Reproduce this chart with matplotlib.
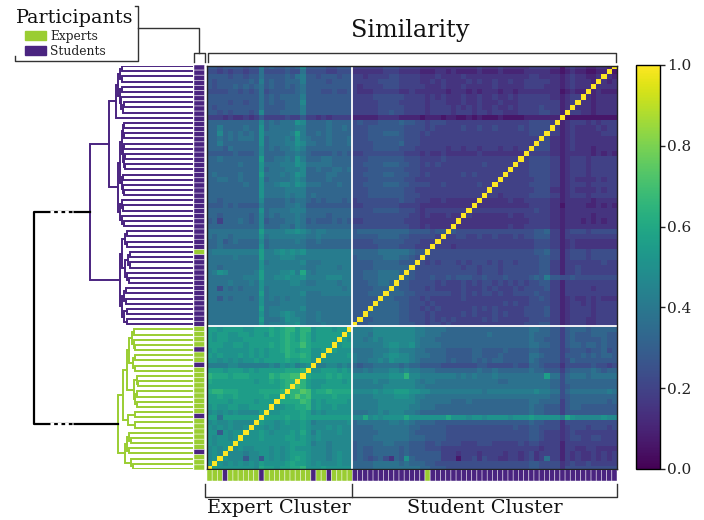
import numpy as np
import matplotlib
matplotlib.use('Agg')
import matplotlib.pyplot as plt
from matplotlib.colors import ListedColormap
from matplotlib.lines import Line2D
from matplotlib.patches import Patch

plt.rcParams['font.family'] = ['DejaVu Serif']

W, H = 704, 520
N = 79

# Similarity, one hex digit per cell (steps of 0.045 from 0.06).
# Groups: cols 0-9, 10-19, 20-27, 28-37, 38-47, 48-57, 58-67, 68-78
similarity_rows = [
    "5545555455 8565565695 55544555 3333334443 3332222222 2222322232 2222333322 02322112211",
    "4434344344 7444454474 44433444 2222223332 2221112212 1111211121 1112222211 01211001100",
    "5555455455 7555565785 54555455 3323333443 3332223222 2322222222 2222332222 12322112221",
    "5455555565 8565566685 55545555 3333344443 3332232322 2232322322 3223333322 12322212212",
    "5455565656 7565565675 55555555 3233334443 3333222322 2322222322 2223333222 12322212222",
    "4444554545 7455555675 55445445 3222333332 2322222212 2212122212 2122222222 01211112111",
    "5555555555 7565666685 55555555 3333444444 3333232322 2322322322 3233333322 12332212222",
    "5555455455 7565566695 55555555 3333344443 3333233322 2322322232 2233333333 12322212222",
    "5455555555 7555566685 55555555 3333344444 3333233332 3232322322 3233334333 12322212222",
    "5545455545 9555666685 55555555 3333344544 3333233332 3332332332 2233334433 12332212222",
    "3332322323 5333343353 32323333 1111122221 1110111011 0010100010 0001111111 00000000000",
    "6666666666 9676777a96 66676666 4544455556 5544344433 3333333333 3333444433 12333232333",
    "6686666766 a677777886 66676676 4445555555 4444343333 3433433433 3343444433 12322223233",
    "6696767676 a777778b86 67676666 4445556665 4443433333 3333333333 3333444433 12322222333",
    "6676767776 a677787a87 66676667 4445555555 4443333333 3333333333 3333333422 12322222222",
    "6686666666 a677788a97 76676667 4444555556 4443333333 3333333333 3333344422 12322222222",
    "6665766666 9676778986 66666666 4444555554 4433333323 3233233323 3233344422 12322212222",
    "5555565556 9666677876 55556565 3344444444 3332322322 2222322222 2222333322 12222212121",
    "6676666666 b667787a86 66776666 4445555555 4443333433 3333333333 3333444433 12333233333",
    "6666667666 a777888a97 77776666 4455556665 5443434333 3333343333 3333444433 12333233333",
    "6666666666 a677788896 67667767 4445555555 4443333333 3333333333 3333444433 12333233333",
    "6766667666 b777878a96 66677666 4455556655 5443433333 3434333333 3333444433 12333233333",
    "6677667666 a677778986 66676666 4445555555 4433333333 3333333333 3333344433 12322223233",
    "6666666766 a778998a97 77666766 4455556665 5444433433 3333433433 3333444433 12333233333",
    "6666666666 a777788886 66666666 4445555555 4433333333 3333333333 3333344422 12322223233",
    "6666666666 a777787886 76666666 4445555555 4443333333 3333333323 3333444433 12333233333",
    "6656666666 9666676776 56566656 3444444445 4433322322 2222322222 3223333322 12222212222",
    "5556565555 8666677875 55555555 3344444443 3332222222 2222222222 2222333322 02222112121",
    "6666666666 a677778886 66666666 4444555554 4432333333 3333333333 3333343322 12222222222",
    "6656666656 9676777876 66656666 4444444444 4332322232 2232222222 3223333322 12222212222",
    "5636667656 9566677875 65556565 3344444444 3332222222 2222222222 2222333322 12221212122",
    "6666666666 9666776876 66666666 4444444444 4332322222 2222222222 3223333322 12222222222",
    "7777777777 b888899a98 78877777 5666666666 6555545545 4444444444 4444455633 13444344444",
    "7677677777 a788888887 78777777 5555566665 5444443433 4433433433 3434455533 13333333333",
    "6675676666 9677777876 67666666 4444555555 4443333333 3333333333 3333344433 12322222222",
    "6676666666 a677777776 66666666 4444455554 4433333332 3333333333 3333344433 12322222222",
    "7888888888 b889a9a9a8 88888888 6666677777 7655444444 4444444444 4444455644 13444344444",
    "7777787777 b888999888 88888888 5666667776 6544444444 4444444444 4444445544 13444344444",
    "7777777777 a788888897 77888888 5555666665 5544343444 3434443434 4344445533 13333333433",
    "7767777777 a888888887 78888788 5555666666 6544444444 4344344434 4444445533 13343333333",
    "78a9777778 b88899a8c8 78888888 5566677776 6544444444 4444344434 4444445533 13343333333",
    "7777777888 b8899a99a8 88899988 5566677776 6544454454 5554454445 4444565855 44544444444",
    "7777877787 a888889987 78888788 5556677665 5444443433 3434344343 4343445533 13333333333",
    "7747676777 a788888888 88888878 5555666665 5444343333 3433343433 3434444533 13333323333",
    "7777777777 b788888897 77888888 5556666666 5544444443 3434344343 3444454433 13333333333",
    "7757677767 a787878887 77777777 5555566655 5443433333 3433333333 3333445433 12322323222",
    "7777777777 a777888887 77777777 5555566665 5444343333 3333333334 3433444433 12332323333",
    "7777777777 b788888897 77777777 5556666665 5443434333 3334343433 3334444533 12333323333",
    "7777777777 a7889a9887 78777777 5556666665 5444343333 3434333434 3334444533 12333323333",
    "7777777777 b7778a9987 78777777 5555666665 5444343434 3333343433 3333444433 12333223333",
    "7777777777 a788899a87 77877777 5556666665 5544344343 3333333333 3334445533 12333223333",
    "bbabbbbaab bbcbcddbdd abbbabbb 8888999999 9988777766 6666666666 6666776655 35666566666",
    "babbaabbab bacbcdcbdc abbbbbab 8887999999 9988777666 6666667666 6666766655 35655566655",
    "babbaaabbb bbbbcdcbdc abbbbaba 8878989999 9987776666 6666666666 6666766555 35655555655",
    "bbbaabbabb bbcbcdccec bbbbbabb 8888889aa9 9a87777666 6666666666 6666776655 35665665655",
    "abaaaaaaba babbcdcbcc aababaaa 7777888998 8877666655 5556655556 5555665555 34555455645",
    "babaaababa babbbdccdc aaaaaaab 8777889aa9 9877766655 5556655565 5555776555 35556565665",
    "aa9a9a9aab abbbbcbbcc a9aaaaaa 8778898a99 9876666656 5556565665 5555765555 34655555555",
    "8888998888 8898a9a89a 88899898 6566777776 7665555444 4444554444 4544665444 24444454434",
    "bbbabbbaba bbbbbcccdb aabbbaba 7787888998 9887776666 6666766766 6666766555 35666676566",
    "dcccbcccbb bbdcddeedc bbbcbcbb 9999999aaa d998888888 7878777877 7777777b77 46777677777",
    "cbbbbbbbba bbcbcddddb aaabbbab 8888988999 9987887777 7777777766 7777777766 46666666666",
    "bbbbbbbbbb bbbbcdcedb aabbbbbb 8888889999 9988777777 7777777777 7777777766 45666666666",
    "cddcccbbbb ccccddddfe bccdcccc 9999a9aabb baa9988888 8888878888 8888898877 46777777787",
    "bbcbbcbbbb bcbbccdfde bbbbcbbb 88889999aa a988777777 7777777777 7777777766 45666666666",
    "bbbbabbbba bbbbcccced ababbbba 8888899999 9987777776 6676666666 6666776666 35666666656",
    "abaabbaabb bbbaabbccd abaabaaa 8888899999 9887776666 6666666666 6666766555 35665555555",
    "9a9a9a9999 baaabbbbcb 9a9aaaaa 7778898999 8876666666 6666666666 6666766555 35555555555",
    "bb7bbbbbbb cbbbbcbbcb bbbbbbbb 99c9a9aaaa caaaaaaaca aa9aa9aaaa 9aaabaaaaa 8ca99999a99",
    "9a99a99999 baa9abaaba 8999999a 6777777887 8766665555 5555555555 5555655444 24444444444",
    "a9a9a99a9a a9a9aaaaba 999a9a99 6666777777 7665555544 4444444444 4544554444 23444344434",
    "aa5a9aa9aa ba9aaabaca 8a999a99 6666677777 7655555544 4444444444 4444554333 23433333333",
    "a9aa9aaaaa baaaabbaba 9a999999 6666777777 7666555544 4444444444 4444554333 23443344333",
    "a9aaaaaaaa aaaaaabbba 89989999 5666667766 6555445444 4333444333 3343443333 13333333333",
    "9a9a99a99a aa9a9abaaa 99989999 5655666665 6555444333 3333333333 3333332333 13322332222",
    "9a9a999899 aa9a9abbba 99989a99 5655666665 6555555333 2333233332 3323423333 13232232323",
    "9a8a999599 5a9a9abcba 99989a99 5654564265 a655555333 0334243322 3323423733 13232232323",
    "aaa9a9a9a9 baaaabcbba 9a999a99 6666777776 7666554444 4444444444 4444554444 23433433333",
    "bbaaaaaaa9 cbbabbccda aabaaaaa 6666777777 7776655544 4444444444 4444554444 24444444444",
]

# Participant type per row, top to bottom (columns run the other way)
expert_rows = [36, 51, 52, 53, 54, 56, 57, 59, 60, 61, 62, 63, 64, 65, 66, 67,
               69, 70, 71, 72, 73, 74, 76, 77, 78]
cluster_labels = ['Expert Cluster', 'Student Cluster']
cbar_ticks = [0.0, 0.2, 0.4, 0.6, 0.8, 1.0]

# Dendrogram as (distance, upper, lower), leaves are row numbers
student_top = (75, (73, (71, 0, 1), (71, 2, 3)),
               (73, (71, 4, 5), (72, 6, (70, (69, 7, 8), 9))))
student_mid = (75,
               (73,
                (71, (70, (69, 11, 12), (69, 13, 14)),
                 (70, (69, 15, 16), (69, (68, 17, 18), (68, 19, 20)))),
                (71, (70, 21, 22), (70, 23, (69, 24, 25)))),
               (73, (71, 26, (70, 27, 28)), (71, 29, (69, 30, 31))))
student_low = (73,
               (71.5, (68.5, (66, 32, 33), (66, 34, 35)),
                (68, (65, (63, 36, 37), (63, 38, 39)), (66, 40, (64, 41, 42)))),
               (71, (69, (67, 43, 44), (67, 45, 46)), (69, (66, 47, 48), (66, 49, 50))))
student_tree = (103.5, (84, (77, student_top, 10), student_mid), student_low)
expert_tree = (75,
               (70,
                (66,
                 (64, (61, (59, 51, 52), (59, 53, (58, 54, 55))),
                  (60, (58, 56, 57), (58, 58, 59))),
                 (59, (56, 60, (55, 61, 62)), (58, (56, 63, 64), (56, 65, 66)))),
                (65, (58, 67, 68), (58, 69, 70))),
               (68,
                (66, (64, 71, (62, 72, 73)), (64, 74, 75)),
                (62, 76, (60, 77, 78))))
root_distance = 159

expert_color = '#9acd32'
student_color = '#4a2480'
line_color = '#333333'


def px_axes(x0, y0, x1, y1):
    return fig.add_axes([x0 / W, 1 - y1 / H, (x1 - x0) / W, (y1 - y0) / H])


def px_line(xs, ys, color=line_color, lw=1.0):
    fig.add_artist(Line2D([x / W for x in xs], [1 - y / H for y in ys], color=color, lw=lw))


def draw_tree(ax, node, color):
    if not isinstance(node, tuple):
        return node, 0
    dist, upper, lower = node
    y1, d1 = draw_tree(ax, upper, color)
    y2, d2 = draw_tree(ax, lower, color)
    ax.plot([d1, dist, dist, d2], [y1, y1, y2, y2], color=color, lw=1.4, solid_joinstyle='miter')
    return (y1 + y2) / 2, dist


similarity = np.array([[0.06 + 0.045 * int(c, 16) for c in r.replace(' ', '').ljust(N, '3')[:N]]
                       for r in similarity_rows])
similarity[np.arange(N), N - 1 - np.arange(N)] = 1.0

is_expert = np.zeros(N, dtype=int)
is_expert[expert_rows] = 1
strip_cmap = ListedColormap([student_color, expert_color])

fig = plt.figure(figsize=(W / 100, H / 100), dpi=100)

# Heatmap, half of the first and last row is cut off
ax = px_axes(207, 66, 617, 469)
im = ax.imshow(similarity, cmap='viridis', vmin=0, vmax=1, aspect='auto', interpolation='antialiased')
ax.set_xlim(-0.5, N - 0.5)
ax.set_ylim(N - 1, 0)
ax.set_xticks([])
ax.set_yticks([])
ax.axvline(27.5, color='white', lw=1.3)
ax.axhline(50.4, color='white', lw=1.3)
for s in ax.spines.values():
    s.set_linewidth(1.0)
    s.set_color('#222222')

# Colorbar
cax = px_axes(636, 65, 660, 469)
cbar = fig.colorbar(im, cax=cax, ticks=cbar_ticks)
cbar.ax.tick_params(labelsize=11, length=3.5, width=1, pad=1.5, colors='#222222')
cbar.outline.set_linewidth(1.0)

# Participant strips
ax_side = px_axes(194, 65, 204.5, 470)
side = ax_side.pcolormesh(is_expert[:, None], cmap=strip_cmap, vmin=0, vmax=1,
                          edgecolors=(1, 1, 1, 0.6), linewidth=0.5, antialiased=True)
side.set_snap(False)
ax_side.set_ylim(N, 0)
ax_side.axis('off')

ax_bottom = px_axes(207, 469.5, 617, 481)
bottom = ax_bottom.pcolormesh(is_expert[::-1][None, :], cmap=strip_cmap, vmin=0, vmax=1,
                              edgecolors=(1, 1, 1, 0.6), linewidth=0.5, antialiased=True)
bottom.set_snap(False)
ax_bottom.axis('off')

# Dendrogram
ax_tree = px_axes(34, 66, 193, 469)
ax_tree.set_xlim(root_distance, 0)
ax_tree.set_ylim(N - 1, 0)
ax_tree.axis('off')
y_s, d_s = draw_tree(ax_tree, student_tree, student_color)
y_e, d_e = draw_tree(ax_tree, expert_tree, expert_color)
ax_tree.plot([d_s, root_distance, root_distance, d_e], [y_s, y_s, y_e, y_e],
             color='black', lw=1.6, clip_on=False, zorder=3)
for y in (y_s, y_e):
    ax_tree.plot([143, 120], [y, y], color='white', lw=2.2, ls=(0, (1.2, 1.2)), zorder=4)

# Brackets
px_line([208, 208, 616, 616], [62, 53, 53, 62])
px_line([194, 194, 205, 205], [62, 53, 53, 62])
px_line([199, 199, 138], [53, 28, 28])
px_line([135, 138, 138, 15, 15], [6, 6, 61, 61, 56])
px_line([205, 205, 617, 617], [484, 497, 497, 484])
px_line([352, 352], [484, 497])

# Texts
fig.text(410.5 / W, 1 - 30 / H, 'Similarity', fontsize=17.2, ha='center', va='center', color='#111111')
fig.text(75 / W, 1 - 18 / H, 'Participants', fontsize=13.8, ha='center', va='center', color='#111111')
fig.text(278.5 / W, 1 - 508 / H, cluster_labels[0], fontsize=13.9, ha='center', va='center', color='#111111')
fig.text(484.5 / W, 1 - 508 / H, cluster_labels[1], fontsize=13.9, ha='center', va='center', color='#111111')
handles = [Patch(color=expert_color, label='Experts'), Patch(color=student_color, label='Students')]
fig.legend(handles=handles, loc='upper left', bbox_to_anchor=(25 / W, 1 - 30 / H), frameon=False,
           prop={'family': 'DejaVu Serif', 'size': 8.8}, handlelength=1.7, handleheight=0.7,
           handletextpad=0.35, labelspacing=0.14, borderpad=0, borderaxespad=0, labelcolor='#222222')

fig.savefig('out.png', dpi=100)
